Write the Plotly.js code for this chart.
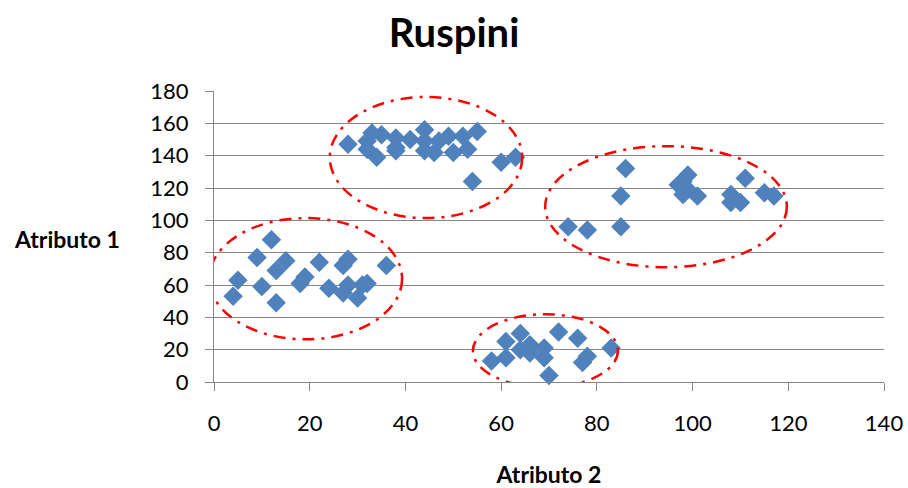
<!DOCTYPE html>
<html>
<head>
<meta charset="utf-8">
<script src="https://cdn.plot.ly/plotly-3.0.1.min.js"></script>
<style>html,body{margin:0;padding:0;background:#fff;}#chart{width:908px;height:488px;}</style>
</head>
<body>
<div id="chart"></div>
<script>
// Ruspini data: Atributo 2 (x) and Atributo 1 (y)
var atributo2 = [4, 5, 10, 9, 13, 13, 12, 15, 18, 19, 22, 27, 28, 24, 27, 28, 30, 31, 32, 36,
  28, 32, 35, 33, 38, 41, 38, 38, 32, 34, 44, 44, 44, 46, 47, 49, 50, 53, 52, 55, 54, 60, 63,
  86, 85, 85, 78, 74, 97, 98, 98, 99, 99, 101, 108, 110, 108, 111, 115, 117,
  70, 77, 83, 61, 69, 78, 66, 58, 64, 69, 66, 61, 76, 72, 64];
var atributo1 = [53, 63, 59, 77, 49, 69, 88, 75, 61, 65, 74, 72, 76, 58, 55, 60, 52, 60, 61, 72,
  147, 149, 153, 154, 151, 150, 145, 143, 144, 139, 156, 149, 143, 142, 149, 152, 142, 144, 152, 155, 124, 136, 139,
  132, 115, 96, 94, 96, 122, 116, 124, 119, 128, 115, 111, 111, 116, 126, 117, 115,
  4, 12, 21, 15, 15, 16, 18, 13, 20, 21, 23, 25, 27, 31, 30];
var xTicks = [0, 20, 40, 60, 80, 100, 120, 140];
var yTicks = [0, 20, 40, 60, 80, 100, 120, 140, 160, 180];
var chartTitle = 'Ruspini';
var xTitle = 'Atributo 2';
var yTitle = 'Atributo 1';

// cluster outlines (data-space bounding boxes of the ellipses)
var clusterBoxes = [
  [-1.0, 26.4, 39.3, 101.4],
  [24.2, 101.4, 64.4, 176.3],
  [69.2, 71.0, 119.7, 145.9],
  [54.1, -3.3, 84.4, 41.9]
];

var FONT = 'Lato, "Open Sans", sans-serif';
var GRID = '#868686';

var shapes = clusterBoxes.map(function (b) {
  return {
    type: 'circle', xref: 'x', yref: 'y',
    x0: b[0], y0: b[1], x1: b[2], y1: b[3],
    line: {color: '#FF0000', width: 2.5, dash: '12px,7px,3px,7px'},
    layer: 'above'
  };
});

var trace = {
  x: atributo2, y: atributo1,
  type: 'scatter', mode: 'markers',
  marker: {symbol: 'diamond', size: 15, color: '#4F81BD', line: {width: 0}},
  hoverinfo: 'x+y', showlegend: false, cliponaxis: false
};

var layout = {
  width: 908, height: 488,
  paper_bgcolor: '#fff', plot_bgcolor: '#fff',
  margin: {l: 214, r: 24, t: 91, b: 106},
  font: {family: FONT, color: '#000', size: 22},
  title: {
    text: '<b>' + chartTitle + '</b>',
    font: {family: FONT, size: 40, color: '#000'},
    xref: 'container', yref: 'container', x: 0.5, xanchor: 'center',
    y: 1 - 33 / 488, yanchor: 'middle'
  },
  xaxis: {
    range: [0, 140], tickvals: xTicks, ticktext: xTicks.map(String),
    showgrid: false, zeroline: false,
    showline: true, linecolor: GRID, linewidth: 1,
    ticks: 'outside', ticklen: 8, tickcolor: GRID, tickwidth: 1,
    ticklabelstandoff: 14,
    tickfont: {family: FONT, size: 22, color: '#000'},
    title: {text: '<b>' + xTitle + '</b>', font: {family: FONT, size: 23, color: '#000'}, standoff: 33},
    fixedrange: true
  },
  yaxis: {
    range: [0, 180], tickvals: yTicks, ticktext: yTicks.map(String),
    showgrid: true, gridcolor: GRID, gridwidth: 1, zeroline: false,
    showline: true, linecolor: GRID, linewidth: 1,
    ticks: 'outside', ticklen: 8, tickcolor: GRID, tickwidth: 1,
    ticklabelstandoff: 12,
    tickfont: {family: FONT, size: 22, color: '#000'},
    fixedrange: true
  },
  annotations: [{
    text: '<b>' + yTitle + '</b>',
    font: {family: FONT, size: 23, color: '#000'},
    xref: 'paper', yref: 'paper',
    x: (12 - 214) / 670, xanchor: 'left',
    y: (381.7 - 239) / 290.7, yanchor: 'middle',
    showarrow: false
  }],
  shapes: shapes
};

Plotly.newPlot('chart', [trace], layout, {displayModeBar: false, staticPlot: true});
</script>
</body>
</html>
